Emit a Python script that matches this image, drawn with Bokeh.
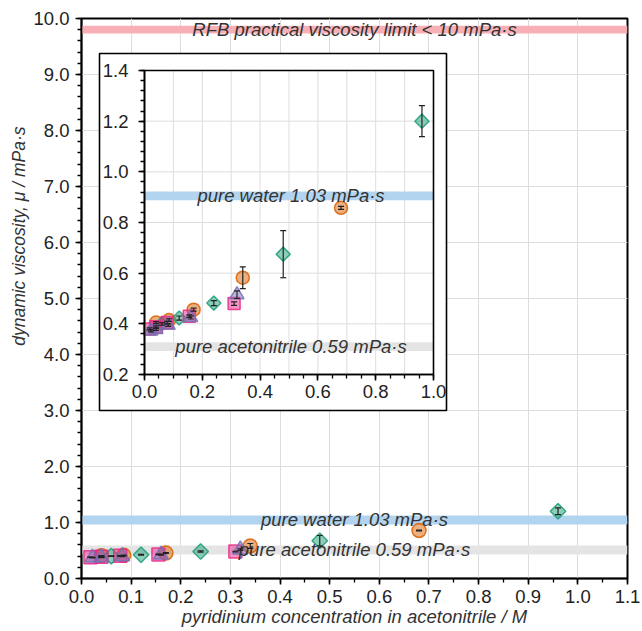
import numpy as np
from bokeh.plotting import figure
from bokeh.models import (Range1d, LinearAxis, FixedTicker, NumeralTickFormatter,
                          ColumnDataSource, Whisker, TeeHead, Label, Title)
from bokeh.embed import file_html
from bokeh.resources import INLINE

# ---------------- data ----------------
conc_orange = [0.040, 0.085, 0.170, 0.340, 0.680]
visc_orange = [0.405, 0.415, 0.456, 0.582, 0.858]
err_orange = [0.004, 0.005, 0.006, 0.043, 0.006]

conc_green = [0.060, 0.120, 0.240, 0.480, 0.960]
visc_green = [0.400, 0.423, 0.482, 0.675, 1.200]
err_green = [0.005, 0.008, 0.010, 0.093, 0.061]

conc_pink = [0.018, 0.040, 0.078, 0.155, 0.310]
visc_pink = [0.380, 0.388, 0.405, 0.430, 0.480]
err_pink = [0.004, 0.004, 0.005, 0.005, 0.007]

conc_purple = [0.022, 0.040, 0.082, 0.160, 0.320]
visc_purple = [0.372, 0.378, 0.395, 0.425, 0.515]
err_purple = [0.004, 0.004, 0.005, 0.006, 0.015]

band_labels = ["RFB practical viscosity limit < 10 mPa\u00b7s",
               "pure water 1.03 mPa\u00b7s",
               "pure acetonitrile 0.59 mPa\u00b7s"]
band_colors = ["#f8b0b6", "#b2d4ef", "#e4e4e4"]
main_band_y = [9.80, 1.045, 0.51]
main_band_h = [0.14, 0.16, 0.16]
main_label_x = [0.55, 0.55, 0.55]
inset_band_y = [0.905, 0.31]
inset_band_h = [0.035, 0.035]
inset_label_x = [0.507, 0.507]

x_title = "pyridinium concentration in acetonitrile / M"
y_title = "dynamic viscosity, \u03bc / mPa\u00b7s"

main_x_ticks = [round(0.1 * i, 1) for i in range(12)]
main_y_ticks = list(range(0, 11))
inset_x_ticks = [0.0, 0.2, 0.4, 0.6, 0.8, 1.0]
inset_y_ticks = [0.2, 0.4, 0.6, 0.8, 1.0, 1.2, 1.4]

series = [
    ("orange", conc_orange, visc_orange, err_orange, "circle", "#D95F02"),
    ("green", conc_green, visc_green, err_green, "diamond", "#1B9E77"),
    ("pink", conc_pink, visc_pink, err_pink, "square", "#E7298A"),
    ("purple", conc_purple, visc_purple, err_purple, "triangle", "#7570B3"),
]

# ---------------- layout (pixels) ----------------
W, H = 642, 631
FL, FR, FT, FB = 81, 627, 18, 578          # main frame
X0, X1, Y0, Y1 = 0.0, 1.1, 0.0, 10.0
IL, IR, IT, IB = 144, 433, 70, 374          # inset plot area
IX0, IX1, IY0, IY1 = 0.0, 1.0, 0.2, 1.4
BL, BR, BT, BB = 99, 446, 53, 410           # inset outer box
YT_TOP = 126                                # y title upper end (px from top)

sx = (IX1 - IX0) / (IR - IL)
sy = (IY1 - IY0) / (IB - IT)

FONT = "Liberation Sans"
TXT = "#333333"
FS = "18.5px"

p = figure(width=W, height=H, x_range=Range1d(X0, X1), y_range=Range1d(Y0, Y1),
           output_backend="svg", toolbar_location=None,
           min_border_left=FL, min_border_right=W - FR,
           min_border_top=FT, min_border_bottom=H - FB)
p.extra_x_ranges = {"ix": Range1d(IX0 - (IL - FL) * sx, IX1 + (FR - IR) * sx)}
p.extra_y_ranges = {"iy": Range1d(IY0 - (FB - IB) * sy, IY1 + (IT - FT) * sy)}

p.outline_line_color = "black"
p.outline_line_width = 2
p.background_fill_color = "white"
p.border_fill_color = "white"

# main grid
p.xgrid.ticker = FixedTicker(ticks=main_x_ticks)
p.ygrid.ticker = FixedTicker(ticks=main_y_ticks)
for g in (p.xgrid, p.ygrid):
    g.grid_line_color = "#dddddd"
    g.grid_line_width = 1


def style_axis(ax):
    ax.axis_line_color = "black"
    ax.axis_line_width = 1.6
    ax.major_tick_line_color = "black"
    ax.major_tick_line_width = 1.6
    ax.minor_tick_line_color = "black"
    ax.minor_tick_line_width = 1.3
    ax.major_tick_in = 0
    ax.major_tick_out = 6
    ax.minor_tick_in = 0
    ax.minor_tick_out = 4
    ax.major_label_text_font = FONT
    ax.major_label_text_font_size = FS
    ax.major_label_text_color = "#222222"
    ax.formatter = NumeralTickFormatter(format="0.0")


xa = p.xaxis[0]
ya = p.yaxis[0]
style_axis(xa)
style_axis(ya)
xa.ticker = FixedTicker(ticks=main_x_ticks,
                        minor_ticks=[round(0.05 * i, 2) for i in range(23)])
ya.ticker = FixedTicker(ticks=main_y_ticks,
                        minor_ticks=[round(0.2 * i, 1) for i in range(51)])
xa.major_label_standoff = 5
ya.major_label_standoff = 6
xa.axis_label = x_title
xa.axis_label_text_font = FONT
xa.axis_label_text_font_style = "italic"
xa.axis_label_text_font_size = FS
xa.axis_label_text_color = TXT
xa.axis_label_standoff = 0

# y title: in the reference it sits above the frame centre
p.add_layout(Title(text=y_title, align="right", offset=YT_TOP - FT, standoff=3,
                   text_font=FONT, text_font_style="italic", text_font_size="17.5px",
                   text_color=TXT), "left")

# main bands
p.quad(left=[X0] * 3, right=[X1] * 3,
       bottom=[y - h / 2 for y, h in zip(main_band_y, main_band_h)],
       top=[y + h / 2 for y, h in zip(main_band_y, main_band_h)],
       fill_color=band_colors, line_color=None)


def draw_series(xr, yr, sizes):
    for name, xs, ys, es, mk, col in series:
        src = ColumnDataSource(dict(x=xs, y=ys,
                                    lo=[y - e for y, e in zip(ys, es)],
                                    hi=[y + e for y, e in zip(ys, es)]))
        kw = dict(x_range_name=xr, y_range_name=yr) if xr else {}
        if mk == "diamond":
            p.scatter("x", "y", source=src, marker="square", angle=np.pi / 4,
                      size=sizes[mk], fill_color=col, fill_alpha=0.5,
                      line_color=col, line_alpha=0.85, line_width=1.5, **kw)
        else:
            p.scatter("x", "y", source=src, marker=mk, size=sizes[mk],
                      fill_color=col, fill_alpha=0.5, line_color=col,
                      line_alpha=0.85, line_width=1.5, **kw)
        wk = Whisker(source=src, base="x", lower="lo", upper="hi", dimension="height",
                     line_color="#222222", line_width=1.2, level="overlay",
                     lower_head=TeeHead(size=6, line_color="#222222", line_width=1.2),
                     upper_head=TeeHead(size=6, line_color="#222222", line_width=1.2),
                     **kw)
        p.add_layout(wk)


draw_series(None, None, {"circle": 14, "diamond": 11, "square": 13, "triangle": 15})

# main band labels
for txt, lx, ly in zip(band_labels, main_label_x, main_band_y):
    p.add_layout(Label(x=lx, y=ly, text=txt, text_align="center", text_baseline="middle",
                       text_font=FONT, text_font_style="italic", text_font_size=FS,
                       text_color=TXT))

# ---------------- inset ----------------
ik = dict(x_range_name="ix", y_range_name="iy")
p.quad(left=[IX0 - (IL - BL) * sx], right=[IX1 + (BR - IR) * sx],
       bottom=[IY0 - (BB - IB) * sy], top=[IY1 + (IT - BT) * sy],
       fill_color="white", line_color="black", line_width=1.6, **ik)

gx = [round(0.1 * i, 1) for i in range(1, 10)]
gy = [0.4, 0.6, 0.8, 1.0, 1.2]
p.segment(x0=gx, x1=gx, y0=[IY0] * len(gx), y1=[IY1] * len(gx),
          line_color="#dddddd", line_width=1, **ik)
p.segment(x0=[IX0] * len(gy), x1=[IX1] * len(gy), y0=gy, y1=gy,
          line_color="#dddddd", line_width=1, **ik)

p.quad(left=[IX0] * 2, right=[IX1] * 2,
       bottom=[y - h / 2 for y, h in zip(inset_band_y, inset_band_h)],
       top=[y + h / 2 for y, h in zip(inset_band_y, inset_band_h)],
       fill_color=band_colors[1:], line_color=None, **ik)

p.quad(left=[IX0], right=[IX1], bottom=[IY0], top=[IY1], fill_color=None,
       line_color="black", line_width=1.6, **ik)

draw_series("ix", "iy", {"circle": 13, "diamond": 10, "square": 12, "triangle": 14})

for txt, lx, ly in zip(band_labels[1:], inset_label_x, inset_band_y):
    p.add_layout(Label(x=lx, y=ly, text=txt, text_align="center", text_baseline="middle",
                       text_font=FONT, text_font_style="italic", text_font_size=FS,
                       text_color=TXT, **ik))

iya = LinearAxis(fixed_location=IX0, bounds=(IY0, IY1),
                 ticker=FixedTicker(ticks=inset_y_ticks,
                                    minor_ticks=[round(0.2 + 0.04 * i, 2) for i in range(31)]),
                 **ik)
style_axis(iya)
iya.major_label_standoff = 10
p.add_layout(iya, "left")

ixa = LinearAxis(fixed_location=IY0, bounds=(IX0, IX1),
                 ticker=FixedTicker(ticks=inset_x_ticks,
                                    minor_ticks=[round(0.05 * i, 2) for i in range(21)]),
                 **ik)
style_axis(ixa)
ixa.major_label_standoff = 4
p.add_layout(ixa, "below")

with open("out.html", "w") as f:
    f.write(file_html(p, INLINE))
